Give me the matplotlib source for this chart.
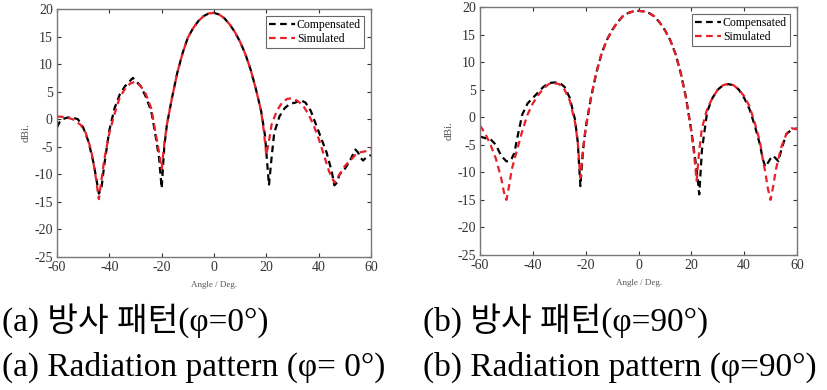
import numpy as np
import matplotlib
matplotlib.use('Agg')
import matplotlib.pyplot as plt

# (a) phi = 0
ang_a_sim = [-60, -57, -54, -51, -49, -47, -45.5, -44, -43, -42, -40, -38, -36, -34, -32, -30, -28, -26, -24, -22.5, -21, -20, -19, -18, -16, -14, -12, -10, -8, -6, -4, -2, 0, 2, 4, 6, 8, 10, 12, 14, 16, 18, 19, 20, 21, 22, 24, 26, 28, 30, 32, 34, 36, 38, 40, 42, 44, 46, 48, 50, 52, 54, 56, 58, 60]
gain_a_sim = [0.5, 0.4, 0.0, -1.0, -2.5, -5.5, -9.5, -14.5, -11, -7.5, -2.5, 1.0, 4.0, 5.5, 6.5, 6.8, 6.0, 4.5, 2.0, -2.0, -6.0, -9.0, -4.5, -1.0, 4.0, 8.5, 12.0, 14.8, 16.5, 17.8, 18.7, 19.2, 19.3, 19.0, 18.3, 17.2, 15.8, 14.0, 11.8, 9.0, 5.5, 1.5, -2.0, -6.5, -4.0, -1.0, 1.5, 3.0, 3.7, 3.8, 3.3, 2.5, 1.0, -1.0, -3.5, -6.5, -9.5, -11.5, -10.0, -8.5, -7.5, -6.5, -6.0, -5.8, -5.5]
ang_a_comp = [-60, -59, -58, -56, -54, -52, -50, -48, -46, -44, -43, -42, -40, -38, -36, -34, -32, -31, -30, -28, -26, -24, -22.5, -21, -20, -19, -18, -16, -14, -12, -10, -8, -6, -4, -2, 0, 2, 4, 6, 8, 10, 12, 14, 16, 18, 19.5, 20.5, 21, 22, 23, 25, 27, 29, 31, 33, 35, 37, 39, 41, 43, 45, 46, 47, 48, 50, 52, 54, 55, 56, 57, 58, 60]
gain_a_comp = [-1.5, -0.5, 0.0, 0.3, 0.3, 0.0, -1.5, -4.0, -8.0, -13.5, -12.5, -8.5, -2.0, 2.0, 4.5, 6.0, 7.0, 7.5, 7.0, 6.0, 4.0, 1.5, -2.5, -7.0, -12.5, -5.0, -1.0, 4.0, 8.5, 12.0, 14.8, 16.5, 17.8, 18.7, 19.2, 19.3, 19.0, 18.3, 17.2, 15.8, 14.0, 11.8, 9.0, 5.5, 1.5, -3.0, -9.0, -12.0, -7.0, -2.5, 0.5, 2.0, 2.8, 3.0, 3.5, 3.0, 1.5, -1.0, -3.5, -6.0, -9.5, -12.0, -11.5, -10.0, -9.0, -7.5, -5.5, -6.0, -7.0, -7.5, -7.0, -6.5]

# (b) phi = 90
ang_b_sim = [-60, -58, -56, -54, -52, -51, -50, -49, -48, -46, -44, -42, -40, -38, -36, -34, -32, -30, -28, -26, -24, -23, -22, -21, -20, -18, -16, -14, -12, -10, -8, -6, -4, -2, 0, 2, 4, 6, 8, 10, 12, 14, 16, 18, 20, 21, 22, 23, 24, 26, 28, 30, 32, 34, 36, 38, 40, 42, 44, 46, 47, 48, 49, 50, 51, 52, 54, 56, 58, 60]
gain_b_sim = [-1.5, -3.0, -5.0, -7.5, -11.0, -13.5, -15.0, -12.5, -9.5, -6.0, -2.5, 0.5, 2.5, 4.0, 5.2, 6.0, 6.2, 6.0, 5.0, 3.0, -1.0, -4.5, -11.0, -6.0, -2.0, 3.5, 8.0, 11.5, 14.0, 15.8, 17.2, 18.3, 18.9, 19.2, 19.3, 19.2, 18.9, 18.3, 17.2, 15.8, 14.0, 11.5, 8.0, 3.5, -2.5, -6.5, -11.5, -6.0, -2.0, 1.5, 3.5, 5.0, 5.8, 6.1, 5.8, 5.0, 3.8, 2.0, -1.0, -4.5, -7.5, -10.0, -13.0, -15.0, -12.5, -9.5, -5.5, -3.0, -2.0, -2.2]
ang_b_comp = [-60, -58, -56, -54, -52, -50, -49, -48, -47, -46, -44, -42, -40, -38, -36, -34, -32, -30, -28, -26, -24, -23, -22, -21, -20, -18, -16, -14, -12, -10, -8, -6, -4, -2, 0, 2, 4, 6, 8, 10, 12, 14, 16, 18, 20, 21, 22, 23, 24, 26, 28, 30, 32, 34, 36, 38, 40, 42, 44, 46, 47, 48, 50, 51, 52, 53, 54, 56, 58, 60]
gain_b_comp = [-3.5, -3.8, -4.0, -5.0, -7.0, -8.0, -8.0, -7.5, -6.5, -4.0, 0.5, 2.5, 3.5, 4.5, 5.5, 6.2, 6.3, 6.3, 5.5, 3.5, -0.5, -4.5, -12.5, -6.0, -2.0, 3.5, 8.0, 11.5, 14.0, 15.8, 17.2, 18.3, 18.9, 19.2, 19.3, 19.2, 18.9, 18.3, 17.2, 15.8, 14.0, 11.5, 8.0, 3.5, -2.5, -6.0, -9.5, -14.0, -6.0, 1.0, 3.5, 5.0, 5.8, 6.0, 5.8, 5.0, 3.5, 1.5, -1.5, -5.0, -7.5, -9.0, -7.5, -7.0, -7.5, -8.0, -6.0, -3.0, -2.3, -2.0]

panels = [
    (ang_a_comp, gain_a_comp, ang_a_sim, gain_a_sim),
    (ang_b_comp, gain_b_comp, ang_b_sim, gain_b_sim),
]
x_ticks = [-60, -40, -20, 0, 20, 40, 60]
y_ticks = [-25, -20, -15, -10, -5, 0, 5, 10, 15, 20]
captions_kr = ['(a) 방사 패턴(\u03c6=0°)', '(b) 방사 패턴(\u03c6=90°)']
captions_en = ['(a) Radiation pattern (\u03c6= 0°)', '(b) Radiation pattern (\u03c6=90°)']

plt.rcParams['font.family'] = ['Liberation Serif', 'Noto Sans CJK KR', 'DejaVu Sans']
plt.rcParams['axes.unicode_minus'] = False

fig = plt.figure(figsize=(8.27, 3.90), dpi=100)
W, H = 827, 390
boxes = [(57, 9, 371, 257), (480, 7, 797, 255)]
grey = '#555555'

for (l, t, r, b), (xc, yc, xs, ys) in zip(boxes, panels):
    ax = fig.add_axes([l / W, 1 - b / H, (r - l) / W, (b - t) / H])
    ax.plot(xc, yc, color='black', ls=(0, (3, 2)), lw=1.6, label='Compensated')
    ax.plot(xs, ys, color='#e8202a', ls=(0, (3, 2)), lw=1.6, label='Simulated')
    ax.set_xlim(-60, 60)
    ax.set_ylim(-25, 20)
    ax.set_xticks(x_ticks)
    ax.set_yticks(y_ticks)
    ax.tick_params(direction='in', length=3, labelsize=10, colors='#333333', pad=3,
                   top=True, right=True)
    for s in ax.spines.values():
        s.set_color('#777777')
        s.set_linewidth(1.0)
    ax.set_ylabel('dBi.', fontsize=8, color=grey, labelpad=3)
    ax.set_xlabel('Angle / Deg.', fontsize=6.5, color=grey, labelpad=5)
    leg = ax.legend(loc='upper right', fontsize=8.5, frameon=True, fancybox=False,
                    handlelength=2.2, handletextpad=0.2, borderpad=0.25,
                    labelspacing=0.15, borderaxespad=0.6)
    leg.get_frame().set_edgecolor('#444444')
    leg.get_frame().set_linewidth(0.8)

xs_cap = [2, 423]
for x0, kr, en in zip(xs_cap, captions_kr, captions_en):
    fig.text(x0 / W, 1 - 321 / H, kr, fontsize=24, va='center', ha='left',
             family=['Liberation Serif', 'Noto Sans CJK KR'])
    fig.text(x0 / W, 1 - 367 / H, en, fontsize=24, va='center', ha='left',
             family=['Liberation Serif', 'Noto Sans CJK KR'])

fig.savefig('out.png', dpi=100)
